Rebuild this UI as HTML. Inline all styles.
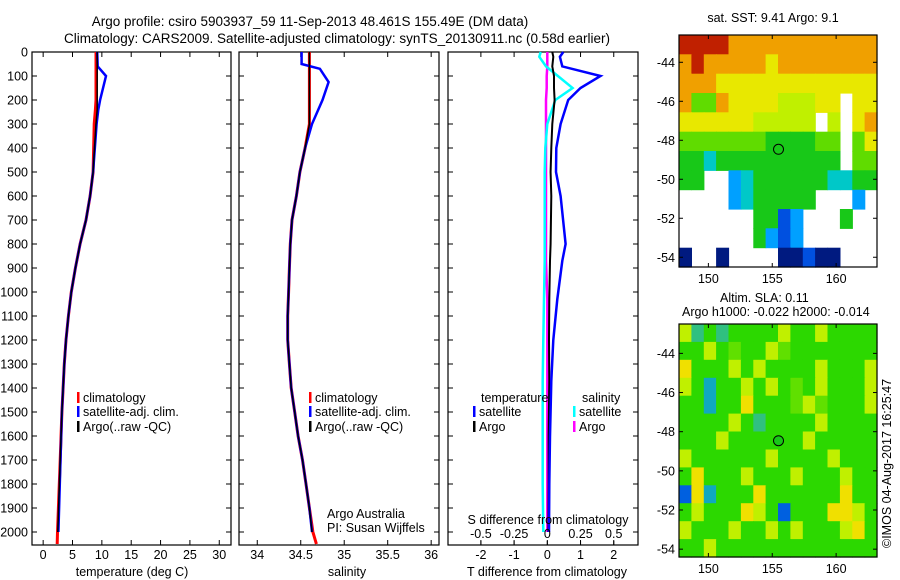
<!DOCTYPE html>
<html><head><meta charset="utf-8">
<style>
html,body{margin:0;padding:0;background:#fff;}
svg{display:block;font-family:"Liberation Sans",sans-serif;}
text{font-size:12.5px;fill:#000;}
</style></head>
<body>
<svg id="c" width="900" height="580" viewBox="0 0 900 580" xmlns="http://www.w3.org/2000/svg">
<text x="310" y="26" text-anchor="middle" style="font-size:13.5px">Argo profile: csiro 5903937_59 11-Sep-2013 48.461S 155.49E (DM data)</text>
<text x="337" y="43" text-anchor="middle" style="font-size:13.5px">Climatology: CARS2009. Satellite-adjusted climatology: synTS_20130911.nc (0.58d earlier)</text>
<text x="773" y="22" text-anchor="middle">sat. SST: 9.41 Argo: 9.1</text>
<text x="720" y="302">Altim. SLA: 0.11</text>
<text x="682" y="316">Argo h1000: -0.022 h2000: -0.014</text>
<text transform="translate(891,548) rotate(-90)">©IMOS 04-Aug-2017 16:25:47</text>
<g id="g"></g>
</svg>
<script>
// ---- profile data ----
const depthT = [0,60,100,200,240,300,500,600,700,800,900,1000,1100,1200,1300,1500,1700,2000,2050];
const tempClim = [9.0,9.0,9.0,9.0,8.9,8.7,8.5,8.0,7.3,6.3,5.5,4.8,4.3,3.9,3.6,3.2,2.9,2.45,2.4];
const tempSat  = [9.2,9.3,10.7,9.7,9.4,9.1,8.5,8.0,7.3,6.3,5.5,4.8,4.3,3.9,3.6,3.2,2.95,2.6];
const tempArgo = [9.2,9.2,9.2,9.2,9.2,9.0,8.5,8.0,7.3,6.3,5.5,4.8,4.3,3.9,3.6,3.2,2.9,2.5];
const depthS = [0,50,70,125,200,300,400,500,600,700,800,900,1000,1100,1200,1300,1400,1500,1600,1700,1800,1900,2000,2050];
const salClim = [34.6,34.6,34.6,34.6,34.6,34.6,34.55,34.49,34.45,34.40,34.38,34.37,34.36,34.35,34.35,34.37,34.39,34.43,34.47,34.52,34.56,34.6,34.64,34.68];
const salSat  = [34.51,34.51,34.72,34.82,34.75,34.63,34.55,34.49,34.45,34.40,34.38,34.37,34.36,34.35,34.35,34.37,34.39,34.43,34.47,34.52,34.56,34.6,34.63];
const salArgo = [34.6,34.6,34.6,34.6,34.6,34.6,34.55,34.49,34.45,34.40,34.38,34.37,34.36,34.35,34.35,34.37,34.39,34.43,34.47,34.52,34.56,34.6,34.63];
const depthD = [0,20,60,100,150,200,300,400,500,600,800,870,1030,1200,1370,1600,1800,2000];
const dTsat  = [0.48,0.38,0.45,1.6,1.0,0.63,0.4,0.27,0.26,0.4,0.55,0.45,0.3,0.18,0.12,0.08,0.06,0.05];
const dTargo = [0.15,0.18,0.15,0.2,0.2,0.22,0.15,0.12,0.1,0.12,0.1,0.08,0.06,0.05,0.06,0.04,0.04,0.03];
const dSsat  = [-0.05,-0.06,-0.01,0.08,0.19,0.06,0.0,-0.015,-0.02,-0.02,-0.02,-0.02,-0.025,-0.03,-0.035,-0.035,-0.035,-0.03];
const dSargo = [0.0,0.0,0.0,-0.005,-0.005,-0.01,-0.01,-0.01,-0.01,-0.01,-0.01,-0.01,0.0,0.0,0.0,0.0,0.0,0.0];
const depthTicks = [0,100,200,300,400,500,600,700,800,900,1000,1100,1200,1300,1400,1500,1600,1700,1800,1900,2000];
const tempTicks = [0,5,10,15,20,25,30];
const salTicks = [34,34.5,35,35.5,36];
const salTickLabels = ['34','34.5','35','35.5','36'];
const dTTicks = [-2,-1,0,1,2];
const dSTicks = [-0.5,-0.25,0,0.25,0.5];
const dSTickLabels = ['-0.5','-0.25','0','0.25','0.5'];
// ---- maps: colour index per ~1deg cell ('.' = no data) ----
const sstRows = [
"9999888888888888",
"8988888788888888",
"8887777777777777",
"8558777766677.77",
"77777766666.6.78",
"5555555444455.57",
"4434444444444.55",
"44..234444443344",
"....2344444...2.",
"......4412...4..",
"......4212......",
"0..0....00100..."];
const slaRows = [
"6343444464464444",
"4464544654444444",
"7444646444464446",
"6424464645464446",
"4424474445654446",
"4444643444464444",
"4446444444644444",
"6444444644446444",
"4744464446444644",
"1724447444444744",
"4644476414447764",
"6444644646444674",
"4464444444444444"];
const palette = ['#001a80','#0050e0','#00a0ff','#00c8c8','#18c818','#60dc00','#c0f000','#e8e800','#f0a000','#c02000'];
const slaPal  = ['#001a80','#0060e0','#10a8c0','#30c080','#2cd800','#60e000','#c0f000','#f0e000','#e07000','#b02000'];

const NS='http://www.w3.org/2000/svg';
const G=document.getElementById('g');
function mk(tag,attrs,parent){const e=document.createElementNS(NS,tag);for(const k in attrs)e.setAttribute(k,attrs[k]);(parent||G).appendChild(e);return e;}
const yTop=52, yPer=0.24, yBot=545;
const yD=d=>yTop+d*yPer;

function panel(name,x0,x1,vmin,vmax){
  const sx=v=>x0+(v-vmin)/(vmax-vmin)*(x1-x0);
  const g=mk('g',{});
  
  
  return {g,sx,x0,x1};
}
function frame(P,xt,withYLabels){
  const r=mk('rect',{x:P.x0,y:yTop,width:P.x1-P.x0,height:yBot-yTop,fill:'none',stroke:'#000','stroke-width':1.2},P.g);
  
  
  depthTicks.forEach(d=>{
    mk('line',{x1:P.x0,x2:P.x0+5,y1:yD(d),y2:yD(d),stroke:'#000'},P.g);
    mk('line',{x1:P.x1,x2:P.x1-5,y1:yD(d),y2:yD(d),stroke:'#000'},P.g);
    if(withYLabels){const t=mk('text',{x:P.x0-4,y:yD(d)+4.5,'text-anchor':'end'},P.g);t.textContent=d;
      
      }
  });
  xt.forEach(v=>{const x=P.sx(v);
    mk('line',{x1:x,x2:x,y1:yTop,y2:yTop+5,stroke:'#000'},P.g);
    mk('line',{x1:x,x2:x,y1:yBot,y2:yBot-5,stroke:'#000'},P.g);});
}
function line(P,xs,ds,color,w,name,dash){
  const pts=xs.map((v,i)=>P.sx(v).toFixed(1)+','+yD(ds[i]).toFixed(1)).join(' ');
  const a={points:pts,fill:'none',stroke:color,'stroke-width':w};
  if(dash)a['stroke-dasharray']=dash;
  const p=mk('polyline',a,P.g);
  
  
}
function xlabels(P,vals,labels,y){vals.forEach((v,i)=>{const t=mk('text',{x:P.sx(v),y:y,'text-anchor':'middle'},P.g);t.textContent=labels[i];
  
  });}
function txt(P,x,y,s,name,anchor){const t=mk('text',{x,y,'text-anchor':anchor||'start'},P.g);t.textContent=s;
  
  return t;}
function legend(P,x,y,color,label,name){
  const r=mk('rect',{x:x,y:y-10,width:2.5,height:11,fill:color},P.g);
  
  
  txt(P,x+6,y,label,name);
}

// Temperature panel
const P1=panel('temperature-panel',32,231,-1.9,32);
frame(P1,tempTicks,true);
line(P1,tempClim,depthT,'#ff0000',3,'temp-climatology-line');
line(P1,tempSat,depthT,'#0000ff',2.5,'temp-satellite-line');
line(P1,tempArgo,depthT,'#000',1.5,'temp-argo-line');
xlabels(P1,tempTicks,tempTicks.map(String),559);
txt(P1,132,576,'temperature (deg C)','temperature-axis-title','middle');
legend(P1,77,402,'#ff0000','climatology','legend-climatology');
legend(P1,77,416,'#0000ff','satellite-adj. clim.','legend-satellite');
legend(P1,77,431,'#000','Argo(..raw -QC)','legend-argo');

// Salinity panel
const P2=panel('salinity-panel',239,439,33.79,36.09);
frame(P2,salTicks,false);
line(P2,salClim,depthS,'#ff0000',3,'sal-climatology-line');
line(P2,salSat,depthS.slice(0,salSat.length),'#0000ff',2.5,'sal-satellite-line');
line(P2,salArgo,depthS.slice(0,salArgo.length),'#000',1.5,'sal-argo-line');
xlabels(P2,salTicks,salTickLabels,559);
txt(P2,347,576,'salinity','salinity-axis-title','middle');
legend(P2,309,402,'#ff0000','climatology','legend-climatology');
legend(P2,309,416,'#0000ff','satellite-adj. clim.','legend-satellite');
legend(P2,309,431,'#000','Argo(..raw -QC)','legend-argo');
txt(P2,327,518,'Argo Australia','argo-australia-label');
txt(P2,327,532,'PI: Susan Wijffels','pi-label');

// Difference panel
const P3=panel('difference-panel',448,638,-2.99,2.73);
frame(P3,dTTicks,false);
const sxS=v=>v*4;
line(P3,dSargo.map(sxS),depthD,'#ff00ff',2.5,'sal-argo-diff-line');
line(P3,dSsat.map(sxS),depthD,'#00ffff',2.5,'sal-satellite-diff-line');
line(P3,dTargo,depthD,'#000',2,'temp-argo-diff-line');
line(P3,dTsat,depthD,'#0000ff',2.5,'temp-satellite-diff-line');
dSTicks.forEach(v=>mk('line',{x1:P3.sx(v*4),x2:P3.sx(v*4),y1:yBot,y2:yBot-4,stroke:'#000'},P3.g));
xlabels(P3,dSTicks.map(sxS),dSTickLabels,538);
txt(P3,548,524,'S difference from climatology','s-diff-axis-title','middle');
xlabels(P3,dTTicks,dTTicks.map(String),559);
txt(P3,547,576,'T difference from climatology','t-diff-axis-title','middle');
txt(P3,481,402,'temperature','legend-temperature-header');
txt(P3,582,402,'salinity','legend-salinity-header');
legend(P3,473,416,'#0000ff','satellite','legend-temp-satellite');
legend(P3,473,431,'#000','Argo','legend-temp-argo');
legend(P3,573,416,'#00ffff','satellite','legend-sal-satellite');
legend(P3,573,431,'#ff00ff','Argo','legend-sal-argo');

// Maps
function map(name,x0,x1,y0,y1,latTop,latBot,rows,pal){
  const lonL=147.7,lonR=163.2;
  const sx=v=>x0+(v-lonL)/(lonR-lonL)*(x1-x0);
  const sy=v=>y0+(latTop-v)/(latTop-latBot)*(y1-y0);
  const g=mk('g',{});
  
  
  const nr=rows.length,nc=rows[0].length,cw=(x1-x0)/nc,ch=(y1-y0)/nr;
  rows.forEach((r,i)=>{for(let j=0;j<nc;j++){const c=r[j];if(c==='.')continue;
    const cell=mk('rect',{x:(x0+j*cw).toFixed(1),y:(y0+i*ch).toFixed(1),width:(cw+0.6).toFixed(1),height:(ch+0.6).toFixed(1),fill:pal[+c]},g);
    
    }});
  const fr=mk('rect',{x:x0,y:y0,width:x1-x0,height:y1-y0,fill:'none',stroke:'#000','stroke-width':1.2},g);
  
  
  [-44,-46,-48,-50,-52,-54].forEach(v=>{const y=sy(v);
    mk('line',{x1:x0,x2:x0+4,y1:y,y2:y,stroke:'#000'},g);mk('line',{x1:x1,x2:x1-4,y1:y,y2:y,stroke:'#000'},g);
    const t=mk('text',{x:x0-4,y:y+4.5,'text-anchor':'end'},g);t.textContent=v;
    
    });
  [150,155,160].forEach(v=>{const x=sx(v);
    mk('line',{x1:x,x2:x,y1:y0,y2:y0+4,stroke:'#000'},g);mk('line',{x1:x,x2:x,y1:y1,y2:y1-4,stroke:'#000'},g);
    const t=mk('text',{x:x,y:y1+16,'text-anchor':'middle'},g);t.textContent=v;
    
    });
  const m=mk('circle',{cx:sx(155.49),cy:sy(-48.461),r:5,fill:'#18c818',stroke:'#000','stroke-width':1},g);
  
  
}
map('sst-map',679,877,35,267,-42.6,-54.5,sstRows,palette);
map('sla-map',679,877,324,557,-42.5,-54.4,slaRows,slaPal);
</script>
</body></html>
